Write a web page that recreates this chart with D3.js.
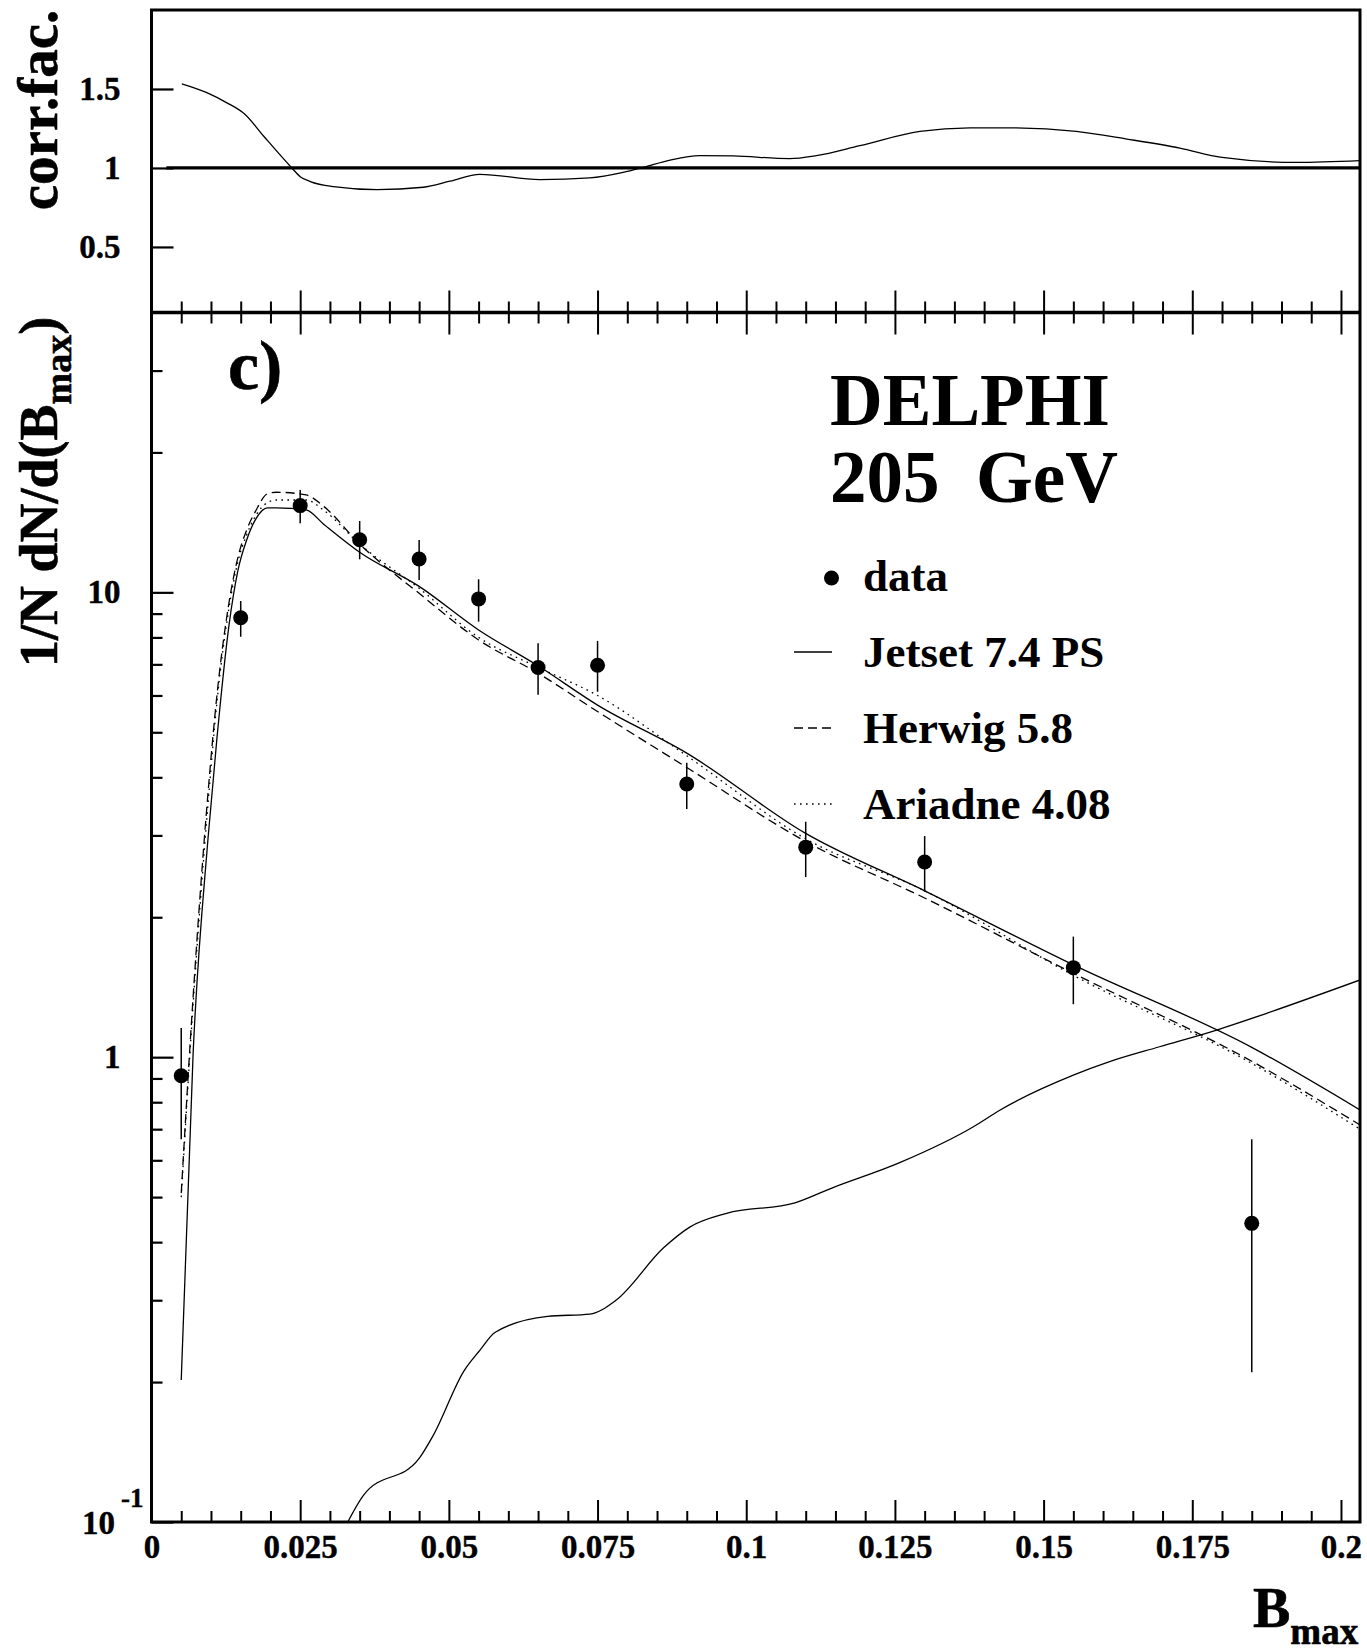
<!DOCTYPE html>
<html><head><meta charset="utf-8">
<script src="https://cdn.jsdelivr.net/npm/d3@7"></script>
<style>
html,body{margin:0;padding:0;background:#fff;}
svg{display:block;}
text{font-family:"Liberation Serif","Times New Roman",serif;font-weight:bold;fill:#000;}
</style></head><body>
<svg id="c" width="1367" height="1651"></svg>
<script>
// ---------------- data ----------------
const dataX  = [0.005, 0.015, 0.025, 0.035, 0.045, 0.055, 0.065, 0.075, 0.09, 0.11, 0.13, 0.155, 0.185];
const dataY  = [0.912, 8.82, 15.37, 12.98, 11.80, 9.68, 6.89, 6.97, 3.87, 2.83, 2.63, 1.558, 0.439];
const dataHi = [1.156, 9.58, 16.61, 14.24, 12.96, 10.67, 7.77, 7.86, 4.30, 3.21, 2.99, 1.817, 0.666];
const dataLo = [0.666, 8.03, 14.08, 11.78, 10.63, 8.65, 6.02, 6.11, 3.42, 2.44, 2.27, 1.30, 0.210];

const mcX     = [0.005, 0.007, 0.0095, 0.011, 0.013, 0.0145, 0.016, 0.0175, 0.0195, 0.021, 0.026, 0.029, 0.035, 0.045, 0.055, 0.065, 0.075, 0.09, 0.11, 0.13, 0.155, 0.185, 0.2032];
const jetset  = [0.202, 1.02, 2.95, 4.85, 8.44, 11.1, 12.96, 14.35, 15.2, 15.2, 15.05, 14.0, 12.2, 10.3, 8.3, 6.95, 5.72, 4.51, 3.03, 2.28, 1.58, 1.05, 0.77];
const herwig  = [0.51, 1.35, 3.7, 6.0, 9.45, 11.85, 13.62, 14.95, 16.3, 16.42, 16.2, 15.29, 12.7, 9.95, 7.9, 6.7, 5.54, 4.2, 2.91, 2.2, 1.515, 0.98, 0.715];
const ariadne = [0.5, 1.3, 3.5, 5.8, 9.2, 11.6, 13.3, 14.6, 15.6, 15.8, 15.8, 15.0, 12.7, 10.2, 8.0, 6.9, 6.0, 4.45, 2.95, 2.28, 1.5, 0.97, 0.70];

const effX = [0.033, 0.0356, 0.045, 0.0473, 0.0526, 0.0552, 0.0578, 0.0666, 0.0737, 0.0781, 0.0861, 0.0905, 0.0967, 0.1082, 0.1144, 0.1258, 0.1382, 0.1427, 0.155, 0.1611, 0.1695, 0.1791, 0.1875, 0.2032];
const effY = [0.1, 0.114, 0.137, 0.153, 0.212, 0.234, 0.256, 0.277, 0.28, 0.30, 0.389, 0.431, 0.4615, 0.486, 0.523, 0.593, 0.7085, 0.77, 0.915, 0.978, 1.053, 1.144, 1.243, 1.466];

const corrX = [0.0051, 0.0093, 0.0126, 0.0157, 0.0188, 0.0236, 0.025, 0.0267, 0.0306, 0.0379, 0.0457, 0.0502, 0.0552, 0.0653, 0.0737, 0.0793, 0.0827, 0.0872, 0.0922, 0.0978, 0.1073, 0.1118, 0.1191, 0.1292, 0.1376, 0.1443, 0.1555, 0.164, 0.1729, 0.18, 0.1926, 0.2032];
const corrY = [1.533, 1.477, 1.414, 1.340, 1.204, 1.0, 0.945, 0.914, 0.882, 0.863, 0.878, 0.916, 0.960, 0.926, 0.937, 0.972, 1.004, 1.05, 1.078, 1.076, 1.059, 1.078, 1.141, 1.231, 1.254, 1.254, 1.231, 1.183, 1.126, 1.067, 1.035, 1.046];

const xMajor = [0, 0.025, 0.05, 0.075, 0.1, 0.125, 0.15, 0.175, 0.2];
const xMinor = [0.005,0.01,0.015,0.02,0.03,0.035,0.04,0.045,0.055,0.06,0.065,0.07,0.08,0.085,0.09,0.095,0.105,0.11,0.115,0.12,0.13,0.135,0.14,0.145,0.155,0.16,0.165,0.17,0.18,0.185,0.19,0.195];
const xLabels = ["0","0.025","0.05","0.075","0.1","0.125","0.15","0.175","0.2"];
const topTicks = [0.5, 1, 1.5];
const topLabels = ["0.5","1","1.5"];
const botMajor = [0.1, 1, 10];
const botMinor = [0.2,0.3,0.4,0.5,0.6,0.7,0.8,0.9,2,3,4,5,6,7,8,9,20,30];
const botLabels = ["1","10"];

const legendNames = ["data", "Jetset 7.4 PS", "Herwig 5.8", "Ariadne 4.08"];

// ---------------- layout ----------------
const L = 151.5, R = 1360, T = 10, MID = 312.5, B = 1522;
const FONT = '"Liberation Serif","Times New Roman",serif';
const TICKFS = 33;
const svg = d3.select('#c');

const x  = d3.scaleLinear().domain([0, 0.2032]).range([L, R]);
const yT = d3.scaleLinear().domain([0.085, 2.0]).range([MID, T]);
const yB = d3.scaleLog().domain([0.1, 40]).range([B, MID]);

const defs = svg.append('defs');
defs.append('clipPath').attr('id','clipT').append('rect').attr('x',L).attr('y',T).attr('width',R-L).attr('height',MID-T);
defs.append('clipPath').attr('id','clipB').append('rect').attr('x',L).attr('y',MID).attr('width',R-L).attr('height',B-MID);

function styleAxis(g, sw) {
  g.select('.domain').remove();
  g.selectAll('.tick line').attr('stroke','#000').attr('stroke-width', sw);
}
function styleLabels(g, size) {
  g.attr('font-family', FONT).attr('font-size', size).attr('font-weight','bold');
  g.select('.domain').remove();
  g.selectAll('.tick line').remove();
  g.selectAll('.tick text').attr('fill','#000').attr('stroke','#000').attr('stroke-width',0.4);
}

// ---------------- top panel ----------------
svg.append('path')
  .datum(corrX.map((v,i)=>[v, corrY[i]]))
  .attr('clip-path','url(#clipT)')
  .attr('d', d3.line().x(d=>x(d[0])).y(d=>yT(d[1])).curve(d3.curveMonotoneX))
  .attr('fill','none').attr('stroke','#000').attr('stroke-width',1.3);

svg.append('line')
  .attr('x1', x(0.0025)).attr('x2', R)
  .attr('y1', yT(1)).attr('y2', yT(1))
  .attr('stroke','#000').attr('stroke-width',3.2);

svg.append('g').attr('transform',`translate(${L},0)`)
  .call(d3.axisRight(yT).tickValues(topTicks).tickSize(22).tickFormat(''))
  .call(g=>styleAxis(g,2.2));
svg.append('g').attr('transform',`translate(${L},0)`)
  .call(d3.axisLeft(yT).tickValues(topTicks).tickSize(0).tickPadding(31).tickFormat((d,i)=>topLabels[i]))
  .call(g=>styleLabels(g,TICKFS));

// divider ticks (up into top panel, down into bottom panel)
[[d3.axisTop,22,xMajor],[d3.axisTop,11,xMinor],[d3.axisBottom,22,xMajor],[d3.axisBottom,11,xMinor]].forEach(([ax,s,v])=>{
  svg.append('g').attr('transform',`translate(0,${MID})`)
    .call(ax(x).tickValues(v).tickSize(s).tickFormat(''))
    .call(g=>styleAxis(g,2));
});

// ---------------- bottom panel ----------------
const mcStyle = [
  {vals: jetset,  dash: null},
  {vals: herwig,  dash: '9,5'},
  {vals: ariadne, dash: '1.6,4.4'}
];
mcStyle.forEach(s=>{
  svg.append('path')
    .datum(mcX.map((v,i)=>[v, s.vals[i]]))
    .attr('clip-path','url(#clipB)')
    .attr('d', d3.line().x(d=>x(d[0])).y(d=>yB(d[1])).curve(d3.curveMonotoneX))
    .attr('fill','none').attr('stroke','#000').attr('stroke-width',1.3)
    .attr('stroke-dasharray', s.dash);
});

svg.append('path')
  .datum(effX.map((v,i)=>[v, effY[i]]))
  .attr('clip-path','url(#clipB)')
  .attr('d', d3.line().x(d=>x(d[0])).y(d=>yB(d[1])).curve(d3.curveMonotoneX))
  .attr('fill','none').attr('stroke','#000').attr('stroke-width',1.3);

// data points
const pts = svg.append('g').attr('clip-path','url(#clipB)');
pts.selectAll('line.err').data(dataX).enter().append('line')
  .attr('x1', d=>x(d)).attr('x2', d=>x(d))
  .attr('y1', (d,i)=>yB(dataLo[i])).attr('y2', (d,i)=>yB(dataHi[i]))
  .attr('stroke','#000').attr('stroke-width',1.5);
pts.selectAll('circle').data(dataX).enter().append('circle')
  .attr('cx', d=>x(d)).attr('cy', (d,i)=>yB(dataY[i])).attr('r',7.5).attr('fill','#000');

// bottom panel y ticks
svg.append('g').attr('transform',`translate(${L},0)`)
  .call(d3.axisRight(yB).tickValues(botMajor).tickSize(22).tickFormat(''))
  .call(g=>styleAxis(g,2.2));
svg.append('g').attr('transform',`translate(${L},0)`)
  .call(d3.axisRight(yB).tickValues(botMinor).tickSize(11).tickFormat(''))
  .call(g=>styleAxis(g,2.2));
svg.append('g').attr('transform',`translate(${L},0)`)
  .call(d3.axisLeft(yB).tickValues([1,10]).tickSize(0).tickPadding(31).tickFormat((d,i)=>botLabels[i]))
  .call(g=>styleLabels(g,TICKFS));
// 10^-1 label
svg.append('text').attr('x', 115).attr('y', yB(0.1)+12).attr('text-anchor','end')
  .attr('font-size',TICKFS).attr('stroke','#000').attr('stroke-width',0.4).text('10');
svg.append('text').attr('x', 121).attr('y', yB(0.1)-15)
  .attr('font-size',27).attr('stroke','#000').attr('stroke-width',0.4).text('-1');

// x axis bottom
svg.append('g').attr('transform',`translate(0,${B})`)
  .call(d3.axisTop(x).tickValues(xMajor).tickSize(22).tickFormat(''))
  .call(g=>styleAxis(g,2));
svg.append('g').attr('transform',`translate(0,${B})`)
  .call(d3.axisTop(x).tickValues(xMinor).tickSize(11).tickFormat(''))
  .call(g=>styleAxis(g,2));
svg.append('g').attr('transform',`translate(0,${B})`)
  .call(d3.axisBottom(x).tickValues(xMajor).tickSize(0).tickPadding(13).tickFormat((d,i)=>xLabels[i]))
  .call(g=>styleLabels(g,TICKFS));

// frame
svg.append('rect').attr('x',L).attr('y',T).attr('width',R-L).attr('height',B-T)
  .attr('fill','none').attr('stroke','#000').attr('stroke-width',3);
svg.append('line').attr('x1',L).attr('x2',R).attr('y1',MID).attr('y2',MID)
  .attr('stroke','#000').attr('stroke-width',3.5);

// ---------------- texts ----------------
svg.append('text').attr('transform',`translate(57,${110}) rotate(-90)`)
  .attr('text-anchor','middle').attr('font-size',57).attr('stroke','#000').attr('stroke-width',0.6).text('corr.fac.');

const yt = svg.append('text').attr('transform',`translate(57,667) rotate(-90)`)
  .attr('font-size',54).attr('stroke','#000').attr('stroke-width',0.6);
yt.append('tspan').text('1/N dN/d(B');
yt.append('tspan').attr('font-size',38).attr('dy',14).text('max');
yt.append('tspan').attr('dy',-14).text(')');

const xt = svg.append('text').attr('x',1253).attr('y',1627).attr('font-size',56).attr('stroke','#000').attr('stroke-width',0.6);
xt.append('tspan').text('B');
xt.append('tspan').attr('font-size',37).attr('dy',17).text('max');

svg.append('text').attr('x',228).attr('y',389).attr('font-size',70).attr('stroke','#000').attr('stroke-width',0.6).text('c)');
svg.append('text').attr('x',830).attr('y',425).attr('font-size',73).text('DELPHI');
svg.append('text').attr('x',830).attr('y',502).attr('font-size',73).attr('xml:space','preserve').style('white-space','pre').text('205  GeV');

// legend
const legY = [591, 667, 743, 819];
const leg = svg.append('g');
leg.selectAll('text').data(legendNames).enter().append('text')
  .attr('x', 863).attr('y', (d,i)=>legY[i]).attr('font-size',45).text(d=>d);
leg.append('circle').attr('cx',831.5).attr('cy',legY[0]-13).attr('r',7.5).attr('fill','#000');
[null,'9,5','1.6,4.4'].forEach((dash,i)=>{
  leg.append('line').attr('x1',794).attr('x2',832)
    .attr('y1',legY[i+1]-15).attr('y2',legY[i+1]-15)
    .attr('stroke','#000').attr('stroke-width',1.3).attr('stroke-dasharray',dash);
});
</script>
</body></html>
